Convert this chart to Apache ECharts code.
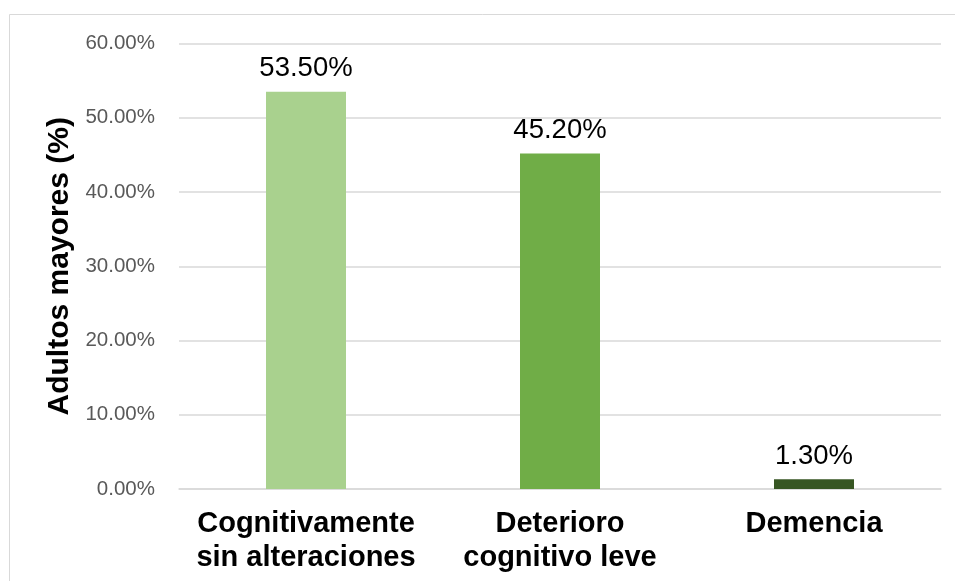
<!DOCTYPE html>
<html>
<head>
<meta charset="utf-8">
<script src="https://cdn.jsdelivr.net/npm/echarts@6/dist/echarts.min.js"></script>
<style>
  html, body { margin: 0; padding: 0; background: #fff; }
  #chart { width: 955px; height: 581px; }
</style>
</head>
<body>
<div id="chart"></div>
<script>
// Cognitive status of older adults (percent of sample)
const categories = ['Cognitivamente\nsin alteraciones', 'Deterioro\ncognitivo leve', 'Demencia'];
const values = [53.5, 45.2, 1.3];
const barColors = ['#A9D18E', '#70AD47', '#375623'];
const axisTitle = 'Adultos mayores (%)';
const yMin = 0, yMax = 60, yStep = 10;

const chart = echarts.init(document.getElementById('chart'), null, { renderer: 'canvas' });

chart.setOption({
  backgroundColor: '#ffffff',
  animation: false,
  graphic: [{
    type: 'rect',
    shape: { x: 9.5, y: 14.5, width: 1200, height: 1000 },
    style: { fill: 'none', stroke: '#d9d9d9', lineWidth: 1 },
    silent: true
  }],
  grid: { left: 179, right: 14, top: 43.5, bottom: 92, containLabel: false },
  xAxis: {
    type: 'category',
    data: categories,
    axisLine: { show: true, lineStyle: { color: '#d9d9d9', width: 1.5 } },
    axisTick: { show: false },
    axisLabel: {
      interval: 0,
      margin: 18,
      color: '#000',
      fontFamily: 'Liberation Sans, Arial, sans-serif',
      fontWeight: 'bold',
      fontSize: 29,
      lineHeight: 34,
      align: 'center'
    }
  },
  yAxis: {
    type: 'value',
    min: yMin,
    max: yMax,
    interval: yStep,
    name: axisTitle,
    nameLocation: 'middle',
    nameGap: 92,
    nameRotate: 90,
    nameTextStyle: {
      color: '#000',
      fontFamily: 'Liberation Sans, Arial, sans-serif',
      fontWeight: 'bold',
      fontSize: 30
    },
    axisLine: { show: false },
    axisTick: { show: false },
    splitLine: { show: true, lineStyle: { color: '#d9d9d9', width: 1.5 } },
    axisLabel: {
      margin: 24,
      color: '#595959',
      fontFamily: 'Liberation Sans, Arial, sans-serif',
      fontSize: 20.5,
      formatter: v => v.toFixed(2) + '%'
    }
  },
  series: [{
    type: 'bar',
    barWidth: 80,
    data: values.map((v, i) => ({ value: v, itemStyle: { color: barColors[i] } })),
    label: {
      show: true,
      position: 'top',
      distance: 9,
      color: '#000',
      fontFamily: 'Liberation Sans, Arial, sans-serif',
      fontSize: 27.5,
      formatter: p => p.value.toFixed(2) + '%'
    }
  }]
});
</script>
</body>
</html>
